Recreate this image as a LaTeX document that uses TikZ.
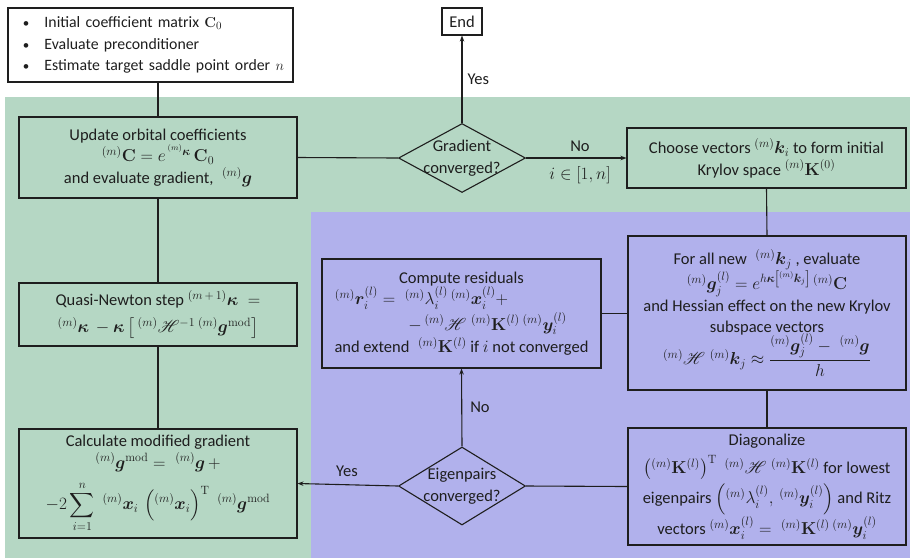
\documentclass[tikz,border=0pt]{standalone}
\usepackage[no-math]{fontspec}
\setmainfont{Carlito}
\usepackage{amsmath}
\usepackage{bm}
\usepackage{mathrsfs}
\usetikzlibrary{shapes.geometric,arrows.meta}
\definecolor{bggreen}{RGB}{181,215,196}
\definecolor{bgpurple}{RGB}{177,177,236}
\definecolor{ink}{RGB}{30,30,30}
\tikzset{
  box/.style={draw=ink, line width=1.1pt, rectangle, inner sep=2pt, align=center, text=ink},
  dia/.style={draw=ink, line width=1.1pt, diamond, inner sep=0pt},
  conn/.style={draw=ink, line width=1.1pt},
  arr/.style={conn, -{Stealth[length=6pt,width=4.5pt]}},
  lbl/.style={text=ink, inner sep=1pt},
}
\newcommand{\pre}[1]{{}^{(#1)}}
\newcommand{\bul}{{\fontsize{13}{13}\selectfont\textbullet}\hspace{15pt}}
\newcommand{\pad}[1]{\rule{#1}{0pt}}
\newcommand{\bline}[1]{\mbox{\hspace*{9pt}\bul #1}}
\begin{document}
\begin{tikzpicture}[x=1pt,y=-1pt,font=\fontsize{16.5}{21.5}\selectfont]
\useasboundingbox (0,0) rectangle (910,558);
\fill[bggreen] (5,97) rectangle (910,558);
\fill[bgpurple] (311,212) rectangle (910,558);

% nodes
\node[box, minimum width=285pt, minimum height=74pt, text width=273pt, inner xsep=6pt, align=left,
      font=\fontsize{15.8}{21.5}\selectfont] (init) at (150.5,45)
 {\bline{Initial coefficient matrix $\mathbf{C}_0$}\\
  \bline{Evaluate preconditioner}\\
  \bline{Estimate target saddle point order $n$}};

\node[box, minimum width=40pt, minimum height=27pt, inner sep=1pt] (end) at (462,21.5) {End};

\node[box, minimum width=278pt, minimum height=81pt] (upd) at (158,157.5)
 {Update orbital coefficients\\
  $\pre{m}\mathbf{C} = e^{\,\pre{m}\bm{\kappa}}\,\mathbf{C}_0$\\
  and evaluate gradient, $\;\pre{m}\bm{g}$};

\node[dia, minimum width=127pt, minimum height=69pt] (gc) at (462,158) {};
\node[lbl, align=center] (gct) at (gc) {Gradient\\converged?};

\node[box, minimum width=279pt, minimum height=60pt] (cho) at (766.5,158)
 {Choose vectors $\pre{m}\bm{k}_i$ to form initial\\
  Krylov space $\pre{m}\mathbf{K}^{(0)}$};

\node[box, minimum width=278pt, minimum height=154pt] (fa) at (767,313)
 {For all new $\;\pre{m}\bm{k}_j$ , evaluate\\
  $\pre{m}\bm{g}_j^{(l)} = e^{h\bm{\kappa}\left[\pre{m}\bm{k}_j\right]}\,\pre{m}\mathbf{C}$\\
  and Hessian effect on the new Krylov\\
  subspace vectors\\[-3pt]
  $\pre{m}\mathscr{H}\;\pre{m}\bm{k}_j \approx \dfrac{\pre{m}\bm{g}_j^{(l)} - \;\pre{m}\bm{g}}{h}$};

\node[box, minimum width=279pt, minimum height=109pt] (cr) at (461.5,313.5)
 {Compute residuals\\
  $\pre{m}\bm{r}_i^{(l)} = \;\pre{m}\lambda_i^{(l)}\,\pre{m}\bm{x}_i^{(l)} +$\pad{80pt}\\[2pt]
  \pad{52pt}$-\,\pre{m}\mathscr{H}\;\pre{m}\mathbf{K}^{(l)}\,\pre{m}\bm{y}_i^{(l)}$\\[1pt]
  and extend $\;\pre{m}\mathbf{K}^{(l)}$ if $i$ not converged};

\node[box, minimum width=278pt, minimum height=117pt] (dg) at (767,486.5)
 {Diagonalize\\[6pt]
  $\left(\pre{m}\mathbf{K}^{(l)}\right)^{\mathrm{T}}\;\pre{m}\mathscr{H}\;\pre{m}\mathbf{K}^{(l)}$ for lowest\\[3pt]
  eigenpairs $\left(\pre{m}\lambda_i^{(l)},\,\pre{m}\bm{y}_i^{(l)}\right)$ and Ritz\\[1pt]
  vectors $\pre{m}\bm{x}_i^{(l)} = \;\pre{m}\mathbf{K}^{(l)}\,\pre{m}\bm{y}_i^{(l)}$};

\node[dia, minimum width=127pt, minimum height=78pt] (ec) at (462,486) {};
\node[lbl, align=center] (ect) at (ec) {Eigenpairs\\converged?};

\node[box, minimum width=278pt, minimum height=109pt] (cm) at (158,483.5)
 {Calculate modified gradient\\
  $\pre{m}\bm{g}^{\mathrm{mod}} = \;\pre{m}\bm{g}\, +$\\[9pt]
  $\displaystyle -2\sum_{i=1}^{n}\;\pre{m}\bm{x}_i\,\left(\pre{m}\bm{x}_i\right)^{\mathrm{T}}\;\pre{m}\bm{g}^{\mathrm{mod}}$};

\node[box, minimum width=278pt, minimum height=63pt] (qn) at (158,314.5)
 {Quasi-Newton step $\pre{m\,+\,1}\bm{\kappa}\; =$\\[6pt]
  $\pre{m}\bm{\kappa}\, - \bm{\kappa}\left[\,\pre{m}\mathscr{H}^{-1}\,\pre{m}\bm{g}^{\mathrm{mod}}\right]$};

% connectors
\draw[conn] (init.south -| upd.north) -- (upd.north);
\draw[conn] (upd.east) -- (gc.west);
\draw[arr] (gc.north) -- (end.south) node[lbl, pos=0.5, right=4pt] (yes1) {Yes};
\draw[arr] (gc.east) -- (cho.west);
\node[lbl] (no1) at (580,146) {No};
\node[lbl] (rng) at (580,175) {$i\in[1,n]$};
\draw[conn] (cho.south) -- (fa.north);
\draw[conn] (fa.south) -- (dg.north);
\draw[conn] (dg.west) -- (ec.east);
\draw[arr] (ec.north) -- (cr.south);
\node[lbl] (no2) at (480,407) {No};
\draw[conn] (cr.east) -- (cr.east -| fa.west);
\draw[arr] (ec.west) -- (cm.east);
\node[lbl] (yes2) at (347,471) {Yes};
\draw[conn] (cm.north) -- (qn.south);
\draw[conn] (qn.north) -- (upd.south);
\end{tikzpicture}
\end{document}
